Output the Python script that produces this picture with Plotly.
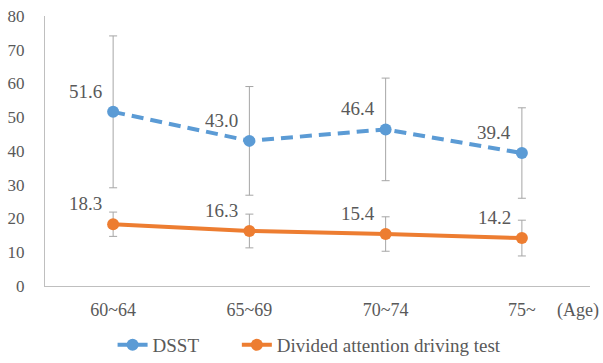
import plotly.graph_objects as go

categories = ["60~64", "65~69", "70~74", "75~"]
dsst_mean = [51.6, 43.0, 46.4, 39.4]
dsst_sd = [22.5, 16.1, 15.2, 13.4]
dadt_mean = [18.3, 16.3, 15.4, 14.2]
dadt_sd = [3.6, 5.0, 5.1, 5.3]
y_ticks = [0, 10, 20, 30, 40, 50, 60, 70, 80]

FONT = "Liberation Serif"
TXT = "#595959"
BLUE = "#5B9BD5"
ORANGE = "#ED7D31"
ERR = "#A6A6A6"

fig = go.Figure()
fig.add_trace(go.Scatter(
    x=categories, y=dsst_mean, name="DSST", mode="lines+markers",
    line=dict(color=BLUE, width=4, dash="12px,7px"),
    marker=dict(size=12, color=BLUE),
    error_y=dict(type="data", array=dsst_sd, visible=True, color=ERR, thickness=1, width=4),
    legend="legend",
))
fig.add_trace(go.Scatter(
    x=categories, y=dadt_mean, name="Divided attention driving test", mode="lines+markers",
    line=dict(color=ORANGE, width=4),
    marker=dict(size=12, color=ORANGE),
    error_y=dict(type="data", array=dadt_sd, visible=True, color=ERR, thickness=1, width=4),
    legend="legend2",
))

annotations = []
for series in (dsst_mean, dadt_mean):
    for c, v in zip(categories, series):
        annotations.append(dict(
            x=c, y=v, text=f"{v:.1f}", showarrow=False,
            xanchor="right", yanchor="bottom", xshift=-9, yshift=8,
            font=dict(family=FONT, size=19, color=TXT),
        ))
annotations.append(dict(
    x=0.936, xref="paper", y=-0.089, yref="paper", text="(Age)", showarrow=False,
    xanchor="left", yanchor="middle",
    font=dict(family=FONT, size=18, color=TXT),
))

legend_style = dict(orientation="h", xanchor="left", y=-0.2185, yanchor="middle",
                    font=dict(family=FONT, size=19, color=TXT), bgcolor="rgba(0,0,0,0)")

fig.update_layout(
    width=603, height=363,
    margin=dict(l=45, r=13, t=16, b=77, autoexpand=False),
    paper_bgcolor="white", plot_bgcolor="white",
    font=dict(family=FONT, size=18, color=TXT),
    showlegend=True,
    legend=dict(x=0.124, **legend_style),
    legend2=dict(x=0.352, **legend_style),
    annotations=annotations,
    xaxis=dict(type="category", range=[-0.5, 3.5], showline=True, linecolor="#BFBFBF",
               linewidth=1, showgrid=False, ticks="", ticklabelstandoff=7, automargin=False,
               tickfont=dict(family=FONT, size=18, color=TXT)),
    yaxis=dict(range=[0, 80], tickvals=y_ticks, showline=True, linecolor="#BFBFBF",
               linewidth=1, showgrid=False, zeroline=False, ticks="", automargin=False,
               ticklabelstandoff=16,
               tickfont=dict(family=FONT, size=17, color=TXT)),
)

fig.write_html("out.html", config={"displayModeBar": False},
               post_script="document.body.style.margin='0';")
